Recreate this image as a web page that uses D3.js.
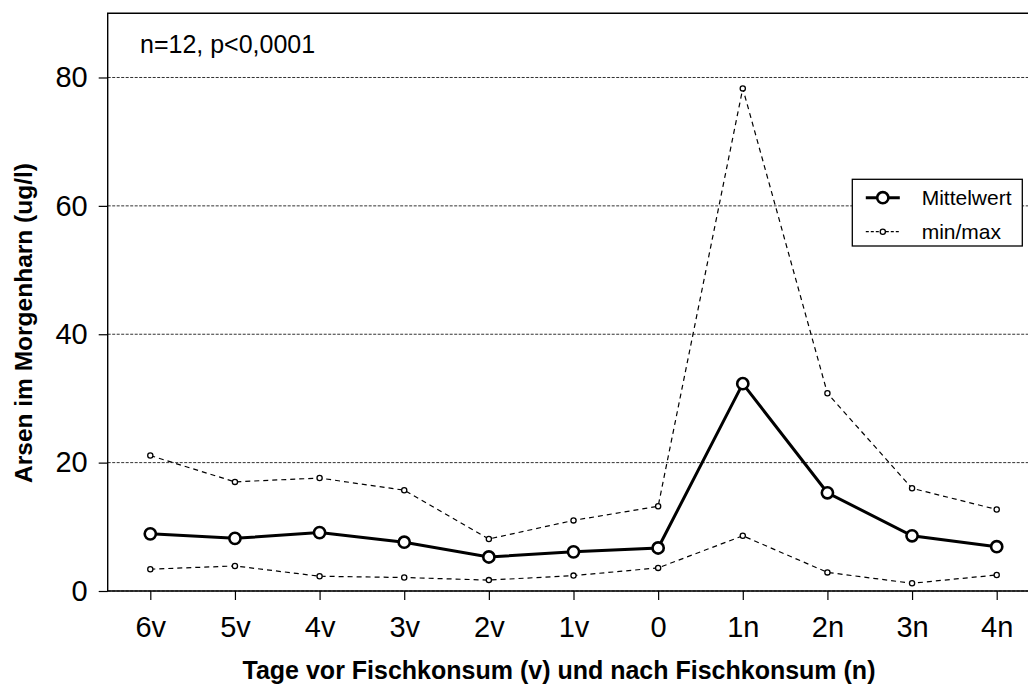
<!DOCTYPE html>
<html>
<head>
<meta charset="utf-8">
<script src="https://cdn.jsdelivr.net/npm/d3@7"></script>
<style>
  body { margin: 0; background: #fff; }
  svg { display: block; font-family: "Liberation Sans", Arial, Helvetica, sans-serif; }
</style>
</head>
<body>
<svg id="chart" width="1028" height="685"></svg>
<script>
'use strict';

// Tage vor (v) / nach (n) Fischkonsum
var days = ["6v", "5v", "4v", "3v", "2v", "1v", "0", "1n", "2n", "3n", "4n"];
var meanValues = [8.9, 8.2, 9.1, 7.6, 5.3, 6.1, 6.7, 32.3, 15.3, 8.6, 6.9];
var minValues = [3.4, 3.9, 2.3, 2.1, 1.7, 2.4, 3.6, 8.6, 2.9, 1.2, 2.5];
var maxValues = [21.1, 17.0, 17.6, 15.7, 8.1, 11.0, 13.2, 78.3, 30.8, 16.0, 12.7];
var yTicks = [0, 20, 40, 60, 80];

var plotLeft = 107.7, plotRight = 1028, plotTop = 13.3, plotBottom = 591;

var svg = d3.select("#chart");

var x = d3.scalePoint()
  .domain(days)
  .range([150.3, 996.7]);

var y = d3.scaleLinear()
  .domain([0, 90])
  .range([plotBottom, plotTop]);

// grid lines
svg.append("g")
  .selectAll("line")
  .data(yTicks)
.enter().append("line")
  .attr("x1", plotLeft)
  .attr("x2", plotRight)
  .attr("y1", function(d) { return y(d); })
  .attr("y2", function(d) { return y(d); })
  .attr("stroke", "#333")
  .attr("stroke-width", 1)
  .attr("stroke-dasharray", "3,1.5");

// y axis
var yAxis = svg.append("g")
  .attr("transform", "translate(" + plotLeft + ",0)")
  .call(d3.axisLeft(y).tickValues(yTicks).tickSize(9).tickPadding(11));
yAxis.select(".domain").remove();
yAxis.selectAll(".tick line").attr("stroke", "#000").attr("stroke-width", 1.2);
yAxis.selectAll(".tick text")
  .attr("font-size", 29)
  .attr("fill", "#000")
  .attr("font-family", "Liberation Sans, Arial, sans-serif");

// x axis
var xAxis = svg.append("g")
  .attr("transform", "translate(0," + plotBottom + ")")
  .call(d3.axisBottom(x).tickSize(9).tickPadding(16));
xAxis.select(".domain").remove();
xAxis.selectAll(".tick line").attr("stroke", "#000").attr("stroke-width", 1.2);
xAxis.selectAll(".tick text")
  .attr("font-size", 29)
  .attr("fill", "#000")
  .attr("font-family", "Liberation Sans, Arial, sans-serif");

// frame: left, top, bottom
svg.append("path")
  .attr("d", "M" + plotRight + "," + plotTop + "H" + plotLeft + "V" + plotBottom + "H" + plotRight)
  .attr("fill", "none")
  .attr("stroke", "#000")
  .attr("stroke-width", 1.4);

var line = d3.line()
  .x(function(d, i) { return x(days[i]); })
  .y(function(d) { return y(d); });

// min / max
[minValues, maxValues].forEach(function(series) {
  svg.append("path")
    .datum(series)
    .attr("d", line)
    .attr("fill", "none")
    .attr("stroke", "#000")
    .attr("stroke-width", 1.2)
    .attr("stroke-dasharray", "5,4");

  svg.append("g")
    .selectAll("circle")
    .data(series)
  .enter().append("circle")
    .attr("cx", function(d, i) { return x(days[i]); })
    .attr("cy", function(d) { return y(d); })
    .attr("r", 2.6)
    .attr("fill", "#fff")
    .attr("stroke", "#000")
    .attr("stroke-width", 1.3);
});

// Mittelwert
svg.append("path")
  .datum(meanValues)
  .attr("d", line)
  .attr("fill", "none")
  .attr("stroke", "#000")
  .attr("stroke-width", 3);

svg.append("g")
  .selectAll("circle")
  .data(meanValues)
.enter().append("circle")
  .attr("cx", function(d, i) { return x(days[i]); })
  .attr("cy", function(d) { return y(d); })
  .attr("r", 5.6)
  .attr("fill", "#fff")
  .attr("stroke", "#000")
  .attr("stroke-width", 2.6);

// annotation
svg.append("text")
  .attr("x", 140)
  .attr("y", 53)
  .attr("font-size", 25)
  .text("n=12, p<0,0001");

// axis titles
svg.append("text")
  .attr("x", 559)
  .attr("y", 679)
  .attr("text-anchor", "middle")
  .attr("font-size", 25)
  .attr("font-weight", "bold")
  .text("Tage vor Fischkonsum (v) und nach Fischkonsum (n)");

svg.append("text")
  .attr("transform", "translate(32,323) rotate(-90)")
  .attr("text-anchor", "middle")
  .attr("font-size", 24.5)
  .attr("font-weight", "bold")
  .text("Arsen im Morgenharn (ug/l)");

// legend
var legend = svg.append("g").attr("transform", "translate(852.3,179.3)");
legend.append("rect")
  .attr("width", 170)
  .attr("height", 66.7)
  .attr("fill", "#fff")
  .attr("stroke", "#000")
  .attr("stroke-width", 1.3);

var legendItems = [
  { label: "Mittelwert", width: 3, dash: null, r: 5.6, sw: 2.6 },
  { label: "min/max", width: 1.2, dash: "3,2", r: 2.6, sw: 1.3 }
];

legendItems.forEach(function(item, i) {
  var cy = 18.4 + i * 34;
  legend.append("line")
    .attr("x1", 13.5).attr("x2", 47.5)
    .attr("y1", cy).attr("y2", cy)
    .attr("stroke", "#000")
    .attr("stroke-width", item.width)
    .attr("stroke-dasharray", item.dash);
  legend.append("circle")
    .attr("cx", 30.5).attr("cy", cy)
    .attr("r", item.r)
    .attr("fill", "#fff")
    .attr("stroke", "#000")
    .attr("stroke-width", item.sw);
  legend.append("text")
    .attr("x", 69.4)
    .attr("y", cy)
    .attr("dy", "0.36em")
    .attr("font-size", 21)
    .text(item.label);
});
</script>
</body>
</html>
